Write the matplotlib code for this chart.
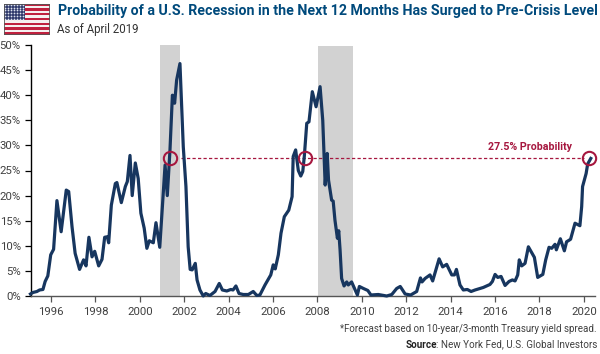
import numpy as np
import matplotlib
matplotlib.use('Agg')
import matplotlib.pyplot as plt
from matplotlib.patches import Rectangle
from matplotlib.ticker import FuncFormatter

# --- data ---
years = [1995.08, 1995.19, 1995.37, 1995.49, 1995.64, 1995.74, 1995.86, 1995.99, 1996.12, 1996.27,
         1996.46, 1996.69, 1996.80, 1996.95, 1997.09, 1997.29, 1997.47, 1997.58, 1997.71, 1997.85,
         1997.97, 1998.15, 1998.30, 1998.42, 1998.54, 1998.60, 1998.72, 1998.90, 1998.97, 1999.17,
         1999.35, 1999.44, 1999.56, 1999.66, 1999.80, 1999.93, 2000.05, 2000.20, 2000.32, 2000.43,
         2000.61, 2000.73, 2000.90, 2001.14, 2001.24, 2001.36, 2001.47, 2001.57, 2001.66, 2001.81,
         2001.96, 2002.08, 2002.18, 2002.27, 2002.36, 2002.50, 2002.58, 2002.71, 2002.86, 2002.97,
         2003.16, 2003.39, 2003.58, 2003.72, 2003.92, 2004.10, 2004.20, 2004.33, 2004.47, 2004.66,
         2004.89, 2005.11, 2005.27, 2005.41, 2005.64, 2005.90, 2006.01, 2006.10, 2006.24, 2006.36,
         2006.51, 2006.71, 2006.86, 2006.91, 2007.02, 2007.14, 2007.25, 2007.34, 2007.41, 2007.52,
         2007.62, 2007.77, 2007.94, 2008.12, 2008.24, 2008.35, 2008.44, 2008.50, 2008.64, 2008.71,
         2008.79, 2008.90, 2008.96, 2009.02, 2009.09, 2009.20, 2009.32, 2009.39, 2009.54, 2009.80,
         2009.89, 2010.07, 2010.27, 2010.41, 2010.74, 2011.12, 2011.35, 2011.57, 2011.73, 2011.95,
         2012.20, 2012.47, 2012.64, 2012.71, 2012.85, 2013.07, 2013.19, 2013.48, 2013.64, 2013.82,
         2014.05, 2014.17, 2014.26, 2014.42, 2014.57, 2014.75, 2014.92, 2015.10, 2015.47, 2015.77,
         2015.88, 2016.00, 2016.12, 2016.27, 2016.45, 2016.63, 2016.78, 2016.90, 2017.02, 2017.09,
         2017.20, 2017.35, 2017.50, 2017.77, 2017.92, 2018.15, 2018.28, 2018.43, 2018.55, 2018.70,
         2018.76, 2018.94, 2019.12, 2019.22, 2019.40, 2019.60, 2019.82, 2019.90, 2019.94, 2020.10,
         2020.17, 2020.31]
prob = [0.4, 0.7, 0.9, 1.2, 1.3, 2.9, 4.0, 8.2, 9.3, 19.0,
        12.8, 21.1, 20.8, 13.8, 8.5, 5.3, 7.2, 6.0, 11.7, 7.8,
        8.9, 6.0, 7.3, 11.7, 11.8, 10.6, 18.1, 22.4, 22.6, 18.6,
        21.8, 22.8, 28.0, 20.0, 26.5, 23.4, 16.5, 13.5, 9.5, 11.0,
        10.6, 14.6, 9.7, 26.1, 20.0, 29.0, 40.0, 38.4, 43.0, 46.3,
        29.7, 21.8, 9.8, 5.3, 5.2, 6.5, 3.2, 1.2, 0.0, 0.5,
        0.1, 0.9, 2.5, 1.2, 1.0, 1.3, 1.2, 2.0, 0.5, 0.3,
        0.3, 0.9, 0.1, 0.2, 2.2, 4.2, 6.2, 5.4, 8.2, 12.5,
        15.8, 17.1, 19.8, 27.8, 29.1, 25.0, 23.9, 24.8, 27.8, 34.4,
        34.7, 40.7, 37.7, 41.7, 35.0, 22.1, 28.4, 23.1, 19.1, 18.9,
        15.1, 11.5, 13.0, 9.2, 3.5, 2.0, 2.8, 2.2, 2.8, 0.2,
        1.9, 1.5, 1.1, 0.2, 0.3, 0.0, 0.3, 1.5, 1.9, 0.4,
        0.2, 0.9, 3.6, 2.8, 3.5, 4.2, 3.0, 7.4, 5.8, 6.3,
        4.2, 4.2, 5.3, 2.2, 1.2, 1.3, 0.9, 1.2, 1.7, 2.3,
        2.9, 4.3, 3.7, 3.9, 2.1, 2.9, 3.2, 3.0, 4.2, 7.2,
        6.0, 6.5, 9.8, 7.7, 3.7, 4.3, 7.2, 9.7, 9.5, 10.3,
        9.2, 11.4, 9.0, 10.8, 11.3, 14.5, 14.0, 17.8, 21.8, 24.4,
        26.3, 27.4]

recession_start = [2000.91, 2008.03]
recession_end = [2001.82, 2009.60]
recession_top = [50.0, 49.8]
circle_years = [2001.36, 2007.43, 2020.24]
current_prob = 27.5
x_ticks = list(range(1996, 2021, 2))
y_ticks = list(range(0, 51, 5))

NAVY = '#17365f'
CRIMSON = '#a6173f'
TITLE = '#004a7c'
GREY = '#404040'
FONT = 'Roboto'

plt.rcParams['font.family'] = FONT

W, H = 600, 354
fig = plt.figure(figsize=(W / 100, H / 100), dpi=100)
ax = fig.add_axes([30.5 / W, 1 - 296 / H, (595 - 30.5) / W, (296 - 45) / H])

for s, e, t in zip(recession_start, recession_end, recession_top):
    ax.fill_between([s, e], 0, t, color='#d2d2d2', lw=0, zorder=1)

ax.plot([2001.86, 2020.0], [current_prob, current_prob], color=CRIMSON, lw=0.9,
        dashes=(2.6, 1.8), zorder=2)
ax.plot(years, prob, color=NAVY, lw=2.3, solid_joinstyle='round', zorder=3, clip_on=False)
ax.plot(circle_years, [current_prob] * 3, 'o', ms=9.6, mfc='none', mec=CRIMSON, mew=1.5,
        zorder=4, clip_on=False)

ax.set_xlim(1995.08, 2020.5)
ax.set_ylim(0, 50)
ax.set_xticks(x_ticks)
ax.set_yticks(y_ticks)
ax.yaxis.set_major_formatter(FuncFormatter(lambda v, _: f'{v:.0f}%'))
ax.tick_params(axis='x', length=4, width=0.9, color='#555555', labelsize=8.2,
               labelcolor=GREY, pad=4)
ax.tick_params(axis='y', length=4, width=0.9, color='black', labelsize=8.2,
               labelcolor=GREY, pad=3)
for side in ['top', 'right']:
    ax.spines[side].set_visible(False)
ax.spines['left'].set_color('black')
ax.spines['left'].set_linewidth(1.0)
ax.spines['bottom'].set_color('#555555')
ax.spines['bottom'].set_linewidth(1.0)

ax.annotate('27.5% Probability', (2020.24, current_prob), xytext=(-12.5, 4.5),
            textcoords='offset points', ha='right', va='bottom', color=CRIMSON,
            fontsize=7.7, fontweight='bold')

# заголовок і підписи
fig.text(57.5 / W, 1 - 10.5 / H, 'Probability of a U.S. Recession in the Next 12 Months Has Surged to Pre-Crisis Level',
         color=TITLE, fontsize=10.2, fontweight='bold', va='center', ha='left')
fig.text(57 / W, 1 - 29.5 / H, 'As of April 2019', color='#333333', fontsize=8.3, va='center', ha='left')

fig.text(597 / W, 1 - 329.5 / H, '*Forecast based on 10-year/3-month Treasury yield spread.',
         color=GREY, fontsize=7.0, va='center', ha='right')
src = fig.text(597 / W, 1 - 344.5 / H, ': New York Fed, U.S. Global Investors',
               color=GREY, fontsize=7.1, va='center', ha='right')
ax.annotate('Source', xy=(0.012, 0.5), xycoords=src, ha='right', va='center', color='#222222',
            fontsize=7.1, fontweight='bold', annotation_clip=False)

# прапор США
flag = fig.add_axes([3.5 / W, 1 - 34.5 / H, 46.5 / W, 31 / H])
flag.set_xlim(0, 1)
flag.set_ylim(0, 13)
flag.axis('off')
for i in range(13):
    flag.add_patch(Rectangle((0, i), 1, 1, color='#c0213f' if i % 2 == 0 else '#f5f0f0', lw=0))
flag.add_patch(Rectangle((0, 6), 0.47, 7, color='#2f3a6b', lw=0))
star_x, star_y = np.meshgrid(np.linspace(0.04, 0.43, 7), np.linspace(6.5, 12.5, 6))
flag.scatter(star_x.ravel(), star_y.ravel(), s=1.6, color='#dfe3ee', lw=0)
flag.add_patch(Rectangle((0, 0), 1, 13, fill=False, ec='#555555', lw=1.2))

fig.savefig('out.png', dpi=100)
